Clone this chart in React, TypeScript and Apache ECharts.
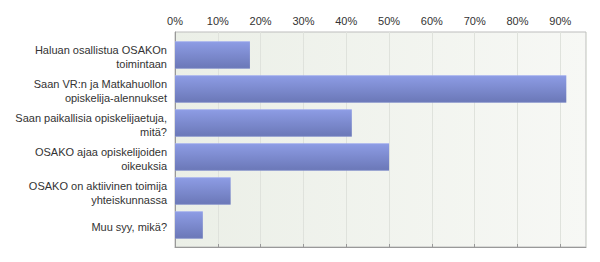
import React, { useEffect, useRef } from "react";
import * as echarts from "echarts";

const categories: string[] = [
  "Haluan osallistua OSAKOn\ntoimintaan",
  "Saan VR:n ja Matkahuollon\nopiskelija-alennukset",
  "Saan paikallisia opiskelijaetuja,\nmitä?",
  "OSAKO ajaa opiskelijoiden\noikeuksia",
  "OSAKO on aktiivinen toimija\nyhteiskunnassa",
  "Muu syy, mikä?",
];
const values: number[] = [17.5, 91.4, 41.3, 50.0, 13.0, 6.5];
const axisMax = 96;
const axisInterval = 10;

export default function App() {
  const ref = useRef<HTMLDivElement>(null);
  useEffect(() => {
    if (!ref.current) return;
    const chart = echarts.init(ref.current, undefined, { renderer: "svg" });
    const font = "Arial, 'Liberation Sans', sans-serif";
    const fontSize = 11;
    const ctx = document.createElement("canvas").getContext("2d")!;
    ctx.font = `${fontSize}px ${font}`;
    const textStyle = {
      color: "#333",
      fontFamily: font,
      fontSize,
      lineHeight: 14,
    };
    const rich: Record<string, any> = { t: textStyle };
    const labelMap: Record<string, string> = {};
    categories.forEach((c, i) => {
      const lines = c.split("\n");
      const widths = lines.map((l) => ctx.measureText(l).width);
      const W = Math.max(...widths);
      labelMap[c] = lines
        .map((l, j) => {
          const pad = (W - widths[j]) / 2;
          if (pad < 0.5) return `{t|${l}}`;
          const key = `p${i}_${j}`;
          rich[key] = { ...textStyle, width: pad };
          return `{${key}|\u00a0}{t|${l}}`;
        })
        .join("\n");
    });
    chart.setOption({
      animation: false,
      grid: [
        {
          left: 175,
          top: 32,
          right: 14,
          bottom: 15,
          show: true,
          backgroundColor: new echarts.graphic.LinearGradient(0, 0, 1, 0, [
            { offset: 0, color: "#ebefe7" },
            { offset: 1, color: "#f7f8f5" },
          ]),
          borderColor: "#bdbdbd",
          borderWidth: 1,
        },
        { left: 175, top: 38, right: 14, bottom: 20 },
      ],
      xAxis: [
        {
          gridIndex: 0,
          type: "value",
          position: "top",
          min: 0,
          max: axisMax,
          interval: axisInterval,
          axisLine: { show: true, lineStyle: { color: "#999", width: 1 } },
          axisTick: { show: true, length: 3, lineStyle: { color: "#999" } },
          axisLabel: {
            formatter: "{value}%",
            color: "#333",
            fontFamily: font,
            fontSize: 11,
            margin: 6,
            showMaxLabel: false,
          },
          splitLine: { show: true, lineStyle: { color: "#dfe2dc", width: 1 } },
        },
        {
          gridIndex: 1,
          type: "value",
          min: 0,
          max: axisMax,
          show: false,
        },
      ],
      yAxis: [
        {
          gridIndex: 0,
          type: "value",
          axisLine: { show: true, lineStyle: { color: "#999" } },
          axisTick: { show: false },
          axisLabel: { show: false },
          splitLine: { show: false },
        },
        {
          gridIndex: 1,
          type: "category",
          inverse: true,
          data: categories,
          axisLine: { show: false },
          axisTick: { show: false },
          axisLabel: {
            margin: 8,
            align: "right",
            padding: [4, 0, 0, 0],
            formatter: (v: string) => labelMap[v] ?? v,
            rich,
          },
        },
      ],
      series: [
        {
          type: "bar",
          xAxisIndex: 1,
          yAxisIndex: 1,
          data: values,
          barWidth: 27.5,
          itemStyle: {
            color: new echarts.graphic.LinearGradient(0, 0, 0, 1, [
              { offset: 0, color: "#a2aef0" },
              { offset: 0.05, color: "#8c9be3" },
              { offset: 0.95, color: "#6c79b9" },
              { offset: 1, color: "#8592cc" },
            ]),
          },
        },
      ],
    });
    return () => chart.dispose();
  }, []);
  return <div ref={ref} style={{ width: 600, height: 262, margin: -8 }} />;
}
